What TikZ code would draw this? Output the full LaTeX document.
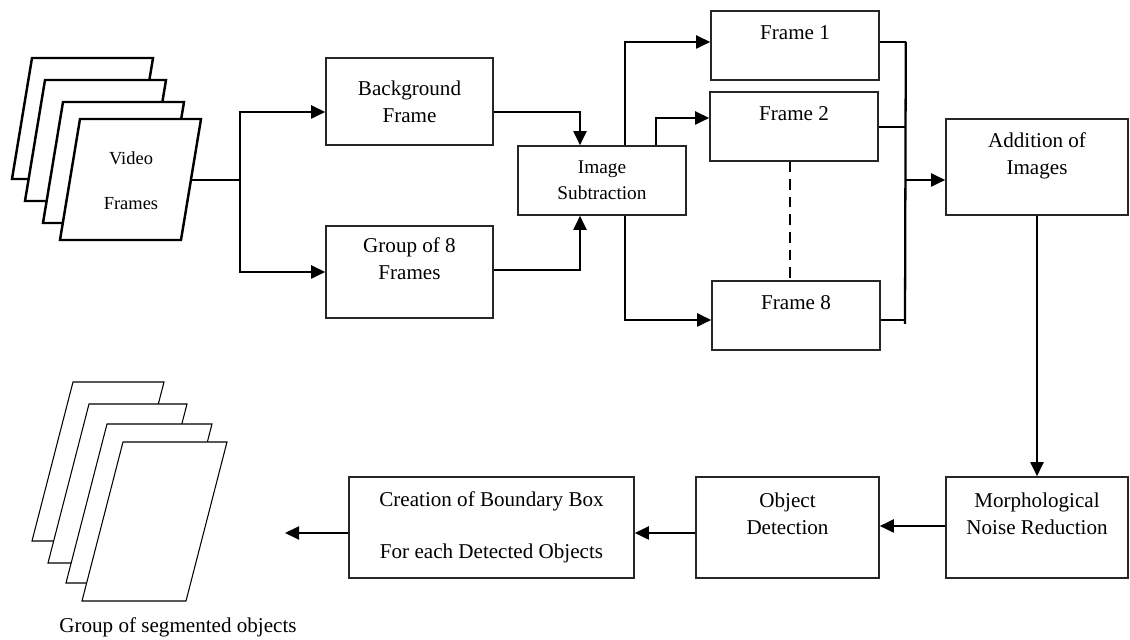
\documentclass[tikz,border=0pt]{standalone}
\usepackage{fontspec}
\setmainfont{Liberation Serif}
\usepackage{xcolor}
\usepackage{tikz}
\usetikzlibrary{arrows.meta, positioning, calc}

\begin{document}
\begin{tikzpicture}[
    % Node styles
    procbox/.style={rectangle, draw=black!85, line width=0.9pt, fill=white, align=center, font=\fontsize{12}{15.3}\selectfont},
    framebox/.style={procbox, minimum width=3.36cm, minimum height=1.38cm},
    stackline/.style={draw=black, line width=1.4pt, fill=white, line join=miter},
    outline/.style={draw=black, line width=0.6pt, fill=white},
    link/.style={line width=1.1pt, black},
    myarrow/.style={link, -{Triangle[length=0.28cm, width=0.26cm]}}
]
\useasboundingbox (0,0) rectangle (22.6,12.8);

% === INPUT STACK ===
\foreach \x/\y in {0.64/11.64, 0.9/11.2, 1.26/10.76, 1.6/10.42}
    \draw[stackline] (\x,\y) -- ++(2.42,0) -- ++(-0.4,-2.42) -- ++(-2.42,0) -- cycle;
\node[font=\fontsize{10.5}{13}\selectfont, align=center] (vid) at (2.62,9.19) {Video\\[0.45cm]Frames};
\coordinate (vidout) at (3.84,9.2);

% === FIRST STAGE ===
\node[procbox, minimum width=3.34cm, minimum height=1.74cm] (bg) at (8.19,10.77) {Background\\Frame};
\node[procbox, minimum width=3.34cm, minimum height=1.84cm] (grp) at (8.19,7.36) {Group of 8\\Frames\\\mbox{}};
\node[procbox, minimum width=3.36cm, minimum height=1.38cm, font=\fontsize{11}{14.5}\selectfont] (sub) at (12.04,9.19) {Image\\Subtraction};

\draw[myarrow] (vidout) -- ++(0.96,0) |- ([yshift=-0.21cm]bg.west);
\draw[myarrow] (vidout) -- ++(0.96,0) |- (grp.west);
\draw[myarrow] ([yshift=-0.21cm]bg.east) -| ([xshift=-0.44cm]sub.north);
\draw[myarrow] ([yshift=0.04cm]grp.east) -| ([xshift=-0.44cm]sub.south);

% === FRAMES ===
\node[framebox] (f1) at (15.9,11.89) {Frame 1\\\mbox{}};
\node[framebox] (f2) at (15.88,10.27) {Frame 2\\\mbox{}};
\node[framebox] (f8) at (15.92,6.49) {Frame 8\\\mbox{}};

\draw[myarrow] ([xshift=0.46cm]sub.north) |- ([yshift=0.07cm]f1.west);
\draw[myarrow] ([xshift=1.08cm]sub.north) |- ([yshift=0.17cm]f2.west);
\draw[myarrow] ([xshift=0.46cm]sub.south) |- ([yshift=-0.09cm]f8.west);
\draw[link, dashed, dash pattern=on 6pt off 4pt] ([xshift=-0.08cm]f2.south) -- ([xshift=-0.08cm]f2.south |- f8.north);

% === ADDITION ===
\node[procbox, minimum width=3.64cm, minimum height=1.92cm] (add) at (20.74,9.46) {Addition of\\Images\\\mbox{}};

\draw[link] ([yshift=0.07cm]f1.east) -- ++(0.52,0) coordinate (bustop);
\coordinate (busbot) at (18.1,6.32);
\draw[link, line width=1.3pt] (bustop) -- (busbot);
\draw[link] ([yshift=-0.01cm]f2.east) -- ([yshift=-0.01cm]f2.east -| bustop);
\draw[link] ([yshift=-0.09cm]f8.east) -- ([yshift=-0.09cm]f8.east -| bustop);
\draw[myarrow] ([yshift=-0.26cm]add.west -| bustop) -- ([yshift=-0.26cm]add.west);

% === DETECTION ===
\node[procbox, minimum width=3.64cm, minimum height=2.02cm] (morph) at (20.74,2.25) {Morphological\\Noise Reduction\\\mbox{}};
\node[procbox, minimum width=3.66cm, minimum height=2.02cm] (det) at (15.75,2.25) {Object\\Detection\\\mbox{}};
\node[procbox, minimum width=5.7cm, minimum height=2.02cm] (bbox) at (9.83,2.25) {Creation of Boundary Box\\[0.5cm]For each Detected Objects};

\draw[myarrow] (add.south) -- (morph.north);
\draw[myarrow] ([yshift=0.03cm]morph.west) -- ([yshift=0.03cm]det.east);
\draw[myarrow] ([yshift=-0.11cm]det.west) -- ([yshift=-0.11cm]bbox.east);
\coordinate (segout) at (5.7,2.14);
\draw[myarrow] ([yshift=-0.11cm]bbox.west) -- (segout);

% === OUTPUT STACK ===
\foreach \x/\y/\w in {1.46/5.16/1.82, 1.78/4.72/1.96, 2.14/4.32/2.1, 2.46/3.96/2.08}
    \draw[outline] (\x,\y) -- ++(\w,0) -- ++(-0.82,-3.18) -- ++(-\w,0) -- cycle;
\node[font=\fontsize{12}{15}\selectfont] (seglab) at (3.56,0.26) {Group of segmented objects};

\end{tikzpicture}
\end{document}
